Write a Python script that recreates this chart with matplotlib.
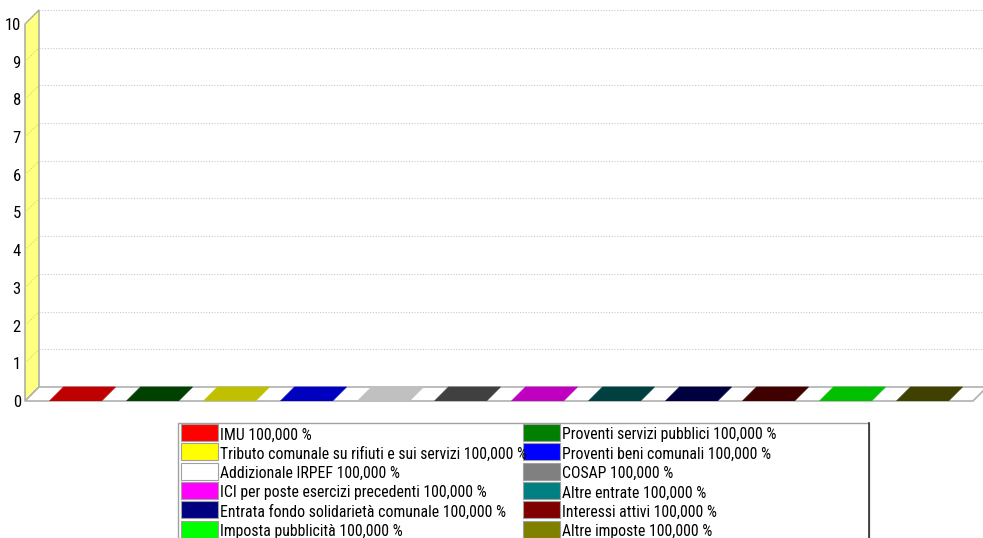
import matplotlib.pyplot as plt
from matplotlib.patches import Polygon, Rectangle

# dati del grafico
labels = ["IMU", "Proventi servizi pubblici",
          "Tributo comunale su rifiuti e sui servizi", "Proventi beni comunali",
          "Addizionale IRPEF", "COSAP",
          "ICI per poste esercizi precedenti", "Altre entrate",
          "Entrata fondo solidarietà comunale", "Interessi attivi",
          "Imposta pubblicità", "Altre imposte"]
percents = [100.0, 100.0, 100.0, 100.0, 100.0, 100.0,
            100.0, 100.0, 100.0, 100.0, 100.0, 100.0]
values = [0, 0, 0, 0, 0, 0, 0, 0, 0, 0, 0, 0]
colors = ["#ff0000", "#008000", "#ffff00", "#0000ff", "#ffffff", "#808080",
          "#ff00ff", "#008080", "#000080", "#800000", "#00ff00", "#808000"]
top_colors = ["#c00000", "#004000", "#c0c000", "#0000c0", "#c0c0c0", "#404040",
              "#c000c0", "#004040", "#000040", "#400000", "#00c000", "#404000"]
yticks = [0, 1, 2, 3, 4, 5, 6, 7, 8, 9, 10]

FONT = ["Roboto Condensed", "DejaVu Sans"]
W, H = 983, 538
DEPTH = 14  # profondità 3D in pixel

fig = plt.figure(figsize=(W / 100, H / 100), dpi=100)
ax = fig.add_axes([25 / W, (H - 401) / H, 948 / W, 377 / H])
x0, x1 = -0.656, len(values) - 1 + 0.656
ax.set_xlim(x0, x1)
ax.set_ylim(0, 10)
dx = DEPTH / (948 / (x1 - x0))
dy = DEPTH / (377 / 10)

# griglia sul fondo
for v in yticks[1:]:
    ax.plot([x0 + dx, x1 + dx], [v + dy, v + dy], ls=(0, (1, 1.5)),
            color="#c8c8c8", lw=0.8, clip_on=False, zorder=1)

# parete sinistra
wall = Polygon([(x0, 0), (x0, 10), (x0 + dx, 10 + dy), (x0 + dx, dy)],
               closed=True, fc="#ffff80", ec="#a0a0a0", lw=1, clip_on=False, zorder=2)
ax.add_patch(wall)
for v in yticks[1:]:
    ax.plot([x0, x0 + dx], [v, v + dy], ls=(0, (1, 1.5)),
            color="#d0d080", lw=0.8, clip_on=False, zorder=3)

# pavimento
floor = Polygon([(x0, 0), (x1, 0), (x1 + dx, dy), (x0 + dx, dy)],
                closed=True, fc="white", ec="#b0b0b0", lw=1.2, clip_on=False, zorder=2)
ax.add_patch(floor)

# barre 3D
bw = 0.675
for i, v in enumerate(values):
    xl, xr = i - bw / 2, i + bw / 2
    front = Rectangle((xl, 0), bw, v, fc=colors[i], ec="none", zorder=4)
    side = Polygon([(xr, 0), (xr + dx, dy), (xr + dx, v + dy), (xr, v)],
                   closed=True, fc=top_colors[i], ec="none", zorder=4)
    top = Polygon([(xl, v), (xr, v), (xr + dx, v + dy), (xl + dx, v + dy)],
                  closed=True, fc=top_colors[i], ec=top_colors[i], lw=0.5, zorder=5)
    ax.add_patch(front)
    ax.add_patch(side)
    ax.add_patch(top)

for s in ax.spines.values():
    s.set_visible(False)
ax.set_xticks([])
ax.set_yticks(yticks)
ax.tick_params(axis="y", length=0, pad=3, labelsize=12)
for t in ax.get_yticklabels():
    t.set_family(FONT)

# legenda
lax = fig.add_axes([0, 0, 1, 1], zorder=5)
lax.set_xlim(0, W)
lax.set_ylim(H, 0)
lax.axis("off")
lax.add_patch(Rectangle((178, 423), 691, 130, fc="white", ec="#a0a0a0", lw=1))
lax.plot([869, 869], [423, H], color="#303030", lw=1.2)
for i, lab in enumerate(labels):
    row, col = i // 2, i % 2
    xs = 181 + col * 342
    ys = 424 + row * 19.3
    lax.add_patch(Rectangle((xs, ys), 37, 17, fc=colors[i], ec="#a0a0a0", lw=0.8))
    txt = lab + " " + f"{percents[i]:.3f}".replace(".", ",") + " %"
    lax.text(xs + 39, ys + 15.5, txt, va="baseline", ha="left", fontsize=11.3, family=FONT)

fig.savefig("out.png", dpi=100)
